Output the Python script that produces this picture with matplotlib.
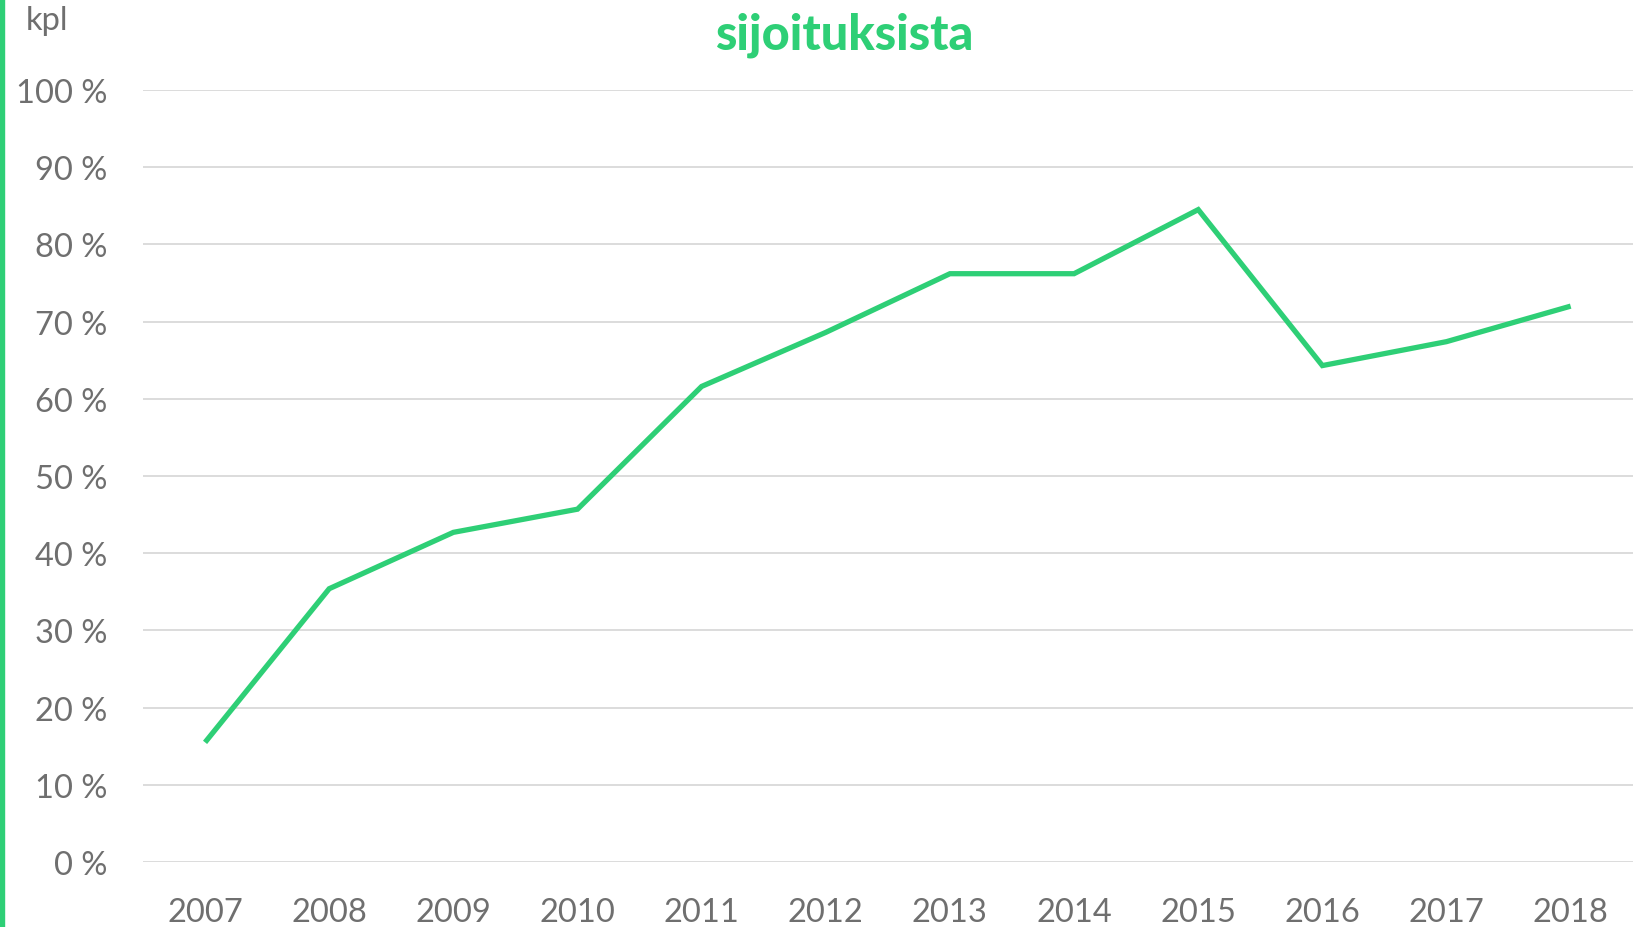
import matplotlib.pyplot as plt
from matplotlib.patches import Rectangle
from matplotlib.ticker import FuncFormatter, MultipleLocator

# data
years = ["2007", "2008", "2009", "2010", "2011", "2012",
         "2013", "2014", "2015", "2016", "2017", "2018"]
share = [15.5, 35.4, 42.7, 45.7, 61.6, 68.6, 76.2, 76.2, 84.5, 64.3, 67.4, 72.0]

green = "#2ecf76"
grey = "#6f6f6f"

plt.rcParams["font.family"] = ["Lato", "DejaVu Sans"]

fig = plt.figure(figsize=(16.36, 9.28), dpi=100)
ax = fig.add_axes([0.0874, 0.070, 0.9106, 0.832])

x = list(range(len(years)))
ax.plot(x, [v / 100 for v in share], color=green, lw=3.8,
        solid_joinstyle="miter", solid_capstyle="butt", zorder=3)

ax.set_xlim(-0.5, len(years) - 0.5)
ax.set_ylim(0, 1)
ax.yaxis.set_major_locator(MultipleLocator(0.1))
ax.yaxis.set_major_formatter(FuncFormatter(lambda v, p: f"{round(v * 100)} %"))
ax.set_xticks(x)
ax.set_xticklabels(years)

ax.grid(axis="y", color="#d9d9d9", lw=1.3)
ax.set_axisbelow(True)
for s in ax.spines.values():
    s.set_visible(False)
ax.tick_params(axis="y", length=0, pad=26, labelsize=23.5, labelcolor=grey)
ax.tick_params(axis="x", length=0, pad=25, labelsize=23.5, labelcolor=grey)

# title and unit label
fig.text(0.516, 0.962, "sijoituksista", color=green, fontsize=35,
         fontweight="black", ha="center", va="center")
fig.text(0.016, 0.977, "kpl", color=grey, fontsize=23.5, ha="left", va="center")

# green bar on left edge
fig.patches.append(Rectangle((0, 0), 4 / 1636, 1, transform=fig.transFigure,
                             color=green, zorder=5))

fig.savefig("out.png", dpi=100)
